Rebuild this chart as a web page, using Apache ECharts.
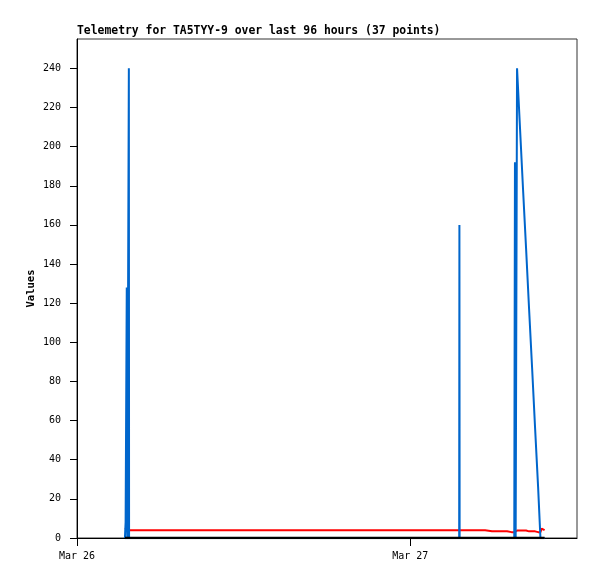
<!DOCTYPE html>
<html>
<head>
<meta charset="utf-8">
<title>Telemetry</title>
<script src="https://cdn.jsdelivr.net/npm/echarts@6/dist/echarts.min.js"></script>
<style>
  html, body { margin: 0; padding: 0; background: #fff; }
  #chart { width: 597px; height: 579px; }
</style>
</head>
<body>
<div id="chart"></div>
<script>
// sample times (37 points)
const times = [
  '2024-03-26 03:27', '2024-03-26 03:30', '2024-03-26 03:35', '2024-03-26 03:37',
  '2024-03-26 03:44', '2024-03-26 03:45',
  '2024-03-27 03:31', '2024-03-27 03:32', '2024-03-27 03:33', '2024-03-27 03:39',
  '2024-03-27 03:47', '2024-03-27 04:05', '2024-03-27 04:26', '2024-03-27 04:44',
  '2024-03-27 05:23', '2024-03-27 05:31', '2024-03-27 05:53', '2024-03-27 06:10',
  '2024-03-27 06:27', '2024-03-27 06:44', '2024-03-27 06:58', '2024-03-27 07:06',
  '2024-03-27 07:17', '2024-03-27 07:29', '2024-03-27 07:32', '2024-03-27 07:35',
  '2024-03-27 07:41', '2024-03-27 07:54', '2024-03-27 08:07', '2024-03-27 08:20',
  '2024-03-27 08:33', '2024-03-27 08:46', '2024-03-27 08:59', '2024-03-27 09:12',
  '2024-03-27 09:22', '2024-03-27 09:27', '2024-03-27 09:40'
];
const blueValues = [
  0, 8, 128, 0, 240, 0,
  0, 160, 0, 0, 0, 0, 0, 0, 0, 0, 0, 0, 0, 0, 0, 0, 0, 0,
  192, 0, 240, 209, 178, 148, 117, 87, 56, 26, 0, 0, 0
];
const redValues = [
  5.0, 4.0, 4.0, 4.0, 4.0, 4.0,
  4.0, 4.0, 4.0, 4.8, 4.0, 4.0, 4.0, 4.0, 4.0, 3.5, 3.5, 3.5, 3.5, 3.5, 3.5, 3.0, 3.0, 3.0,
  3.0, 3.5, 3.8, 3.8, 3.8, 3.8, 3.4, 3.4, 3.4, 3.0, 3.0, 4.8, 4.0
];
const blackValues = [
  0, 0, 0, 0, 0, 0,
  0, 0, 0, 0, 0, 0, 0, 0, 0, 0, 0, 0, 0, 0, 0, 0, 0, 0,
  0, 0, 0, 0, 0, 0, 0, 0, 0, 0, 0, 0, 0
];
const yTicks = [0, 20, 40, 60, 80, 100, 120, 140, 160, 180, 200, 220, 240];
const xStart = '2024-03-26 00:00';
const xEnd = '2024-03-27 12:00';
const xTicks = ['2024-03-26 00:00', '2024-03-27 00:00'];
const xTickLabels = ['Mar 26', 'Mar 27'];

const toMs = s => +echarts.time.parse(s);
const xTickMs = xTicks.map(toMs);
const pairs = vals => times.map((t, i) => [toMs(t), vals[i]]);

const font = 'DejaVu Sans Mono';
const chart = echarts.init(document.getElementById('chart'));
chart.setOption({
  animation: false,
  backgroundColor: '#fff',
  title: {
    text: 'Telemetry for TA5TYY-9 over last 96 hours (37 points)',
    left: 77,
    top: 26,
    padding: 0,
    textStyle: { fontFamily: font, fontSize: 11.4, fontWeight: 'bold', color: '#000' }
  },
  grid: {
    left: 77, right: 20, top: 39, bottom: 41,
    show: true, borderColor: '#333', borderWidth: 1, backgroundColor: '#fff'
  },
  xAxis: {
    type: 'value',
    min: toMs(xStart),
    max: toMs(xEnd),
    axisLine: { onZero: false, lineStyle: { color: '#000', width: 1 } },
    axisTick: { show: true, length: 8, customValues: xTickMs, lineStyle: { color: '#000' } },
    axisLabel: {
      customValues: xTickMs,
      margin: 13,
      color: '#000',
      fontFamily: font,
      fontSize: 10,
      formatter: v => xTickLabels[xTickMs.indexOf(v)] || ''
    },
    splitLine: { show: false }
  },
  yAxis: {
    type: 'value',
    min: 0,
    max: 255,
    name: 'Values',
    nameLocation: 'middle',
    nameGap: 40,
    nameMoveOverlap: false,
    nameTextStyle: { fontFamily: font, fontSize: 10.5, fontWeight: 'bold', color: '#000' },
    axisLine: { show: true, onZero: false, lineStyle: { color: '#000', width: 1 } },
    axisTick: { show: true, length: 7, customValues: yTicks, lineStyle: { color: '#000' } },
    axisLabel: { customValues: yTicks, margin: 16, color: '#000', fontFamily: font, fontSize: 10 },
    splitLine: { show: false }
  },
  series: [
    {
      name: 'ch2', type: 'line', data: pairs(redValues), symbol: 'none',
      lineStyle: { color: '#ff0000', width: 2 }
    },
    {
      name: 'ch1', type: 'line', data: pairs(blueValues), symbol: 'none',
      lineStyle: { color: '#0066cc', width: 2 }
    },
    {
      name: 'ch3', type: 'line', data: pairs(blackValues), symbol: 'none',
      lineStyle: { color: '#000000', width: 2.5 }
    }
  ]
});
</script>
</body>
</html>
